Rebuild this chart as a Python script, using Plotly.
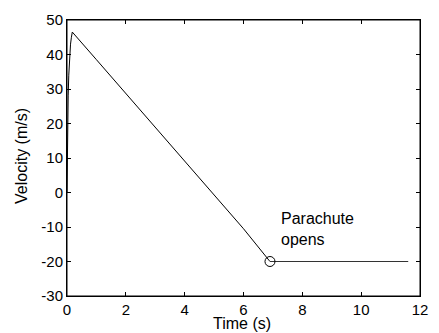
import plotly.graph_objects as go

time_s = [0.0, 0.01, 0.02, 0.04, 0.06, 0.09, 0.12, 0.15, 0.18, 1.0, 2.0, 3.0, 4.0, 5.0, 6.0, 6.9]
velocity = [0.0, 10.0, 20.0, 28.0, 34.0, 40.0, 43.0, 45.0, 46.5, 38.5, 28.7, 18.9, 9.1, -0.7, -10.5, -20.0]
chute_time = [6.9, 11.6]
chute_vel = [-20.0, -20.0]
open_point_t = [6.9]
open_point_v = [-20.0]

x_ticks = [0, 2, 4, 6, 8, 10, 12]
x_labels = ["0", "2", "4", "6", "8", "10", "12"]
y_ticks = [-30, -20, -10, 0, 10, 20, 30, 40, 50]
y_labels = ["-30", "-20", "-10", "0", "10", "20", "30", "40", "50"]

fam = "Liberation Sans, Arial, Helvetica, sans-serif"
tick_font = dict(family=fam, size=15, color="black")
label_font = dict(family=fam, size=16, color="black")

fig = go.Figure()
fig.add_trace(go.Scatter(x=time_s, y=velocity, mode="lines",
                         line=dict(color="black", width=1), showlegend=False))
fig.add_trace(go.Scatter(x=chute_time, y=chute_vel, mode="lines",
                         line=dict(color="#333333", width=1), showlegend=False))
fig.add_trace(go.Scatter(x=open_point_t, y=open_point_v, mode="markers",
                         marker=dict(symbol="circle-open", size=10,
                                     line=dict(color="black", width=1), color="black"),
                         showlegend=False))

fig.add_annotation(x=open_point_t[0], y=open_point_v[0], xref="x", yref="y",
                   text="Parachute<br>opens",
                   showarrow=False, xanchor="left", yanchor="middle",
                   xshift=9, yshift=33, align="left", font=label_font)
fig.add_annotation(x=0.5, y=0, xref="paper", yref="paper", text="Time (s)",
                   showarrow=False, xanchor="center", yanchor="middle",
                   xshift=-2, yshift=-27.5, font=label_font)
fig.add_annotation(x=0, y=0.5, xref="paper", yref="paper", text="Velocity (m/s)",
                   showarrow=False, textangle=-90, xanchor="center", yanchor="middle",
                   xshift=-46, yshift=2, font=label_font)

fig.add_shape(type="rect", xref="paper", yref="paper", x0=0, y0=0, x1=1, y1=1,
              line=dict(color="black", width=1), layer="above")

axis_common = dict(showgrid=False, zeroline=False, showline=True, linecolor="black",
                   linewidth=1, mirror="ticks", ticks="inside", ticklen=4,
                   tickcolor="black", tickfont=tick_font)
fig.update_xaxes(range=[0, 12], tickvals=x_ticks, ticktext=x_labels, **axis_common)
fig.update_yaxes(range=[-30, 50], tickvals=y_ticks, ticktext=y_labels, **axis_common)

fig.update_layout(width=439, height=333, paper_bgcolor="white", plot_bgcolor="white",
                  margin=dict(l=67, r=11, t=13, b=37), font=tick_font)
fig.write_html("out.html", config={"displayModeBar": False},
               post_script="document.body.style.margin='0';")
